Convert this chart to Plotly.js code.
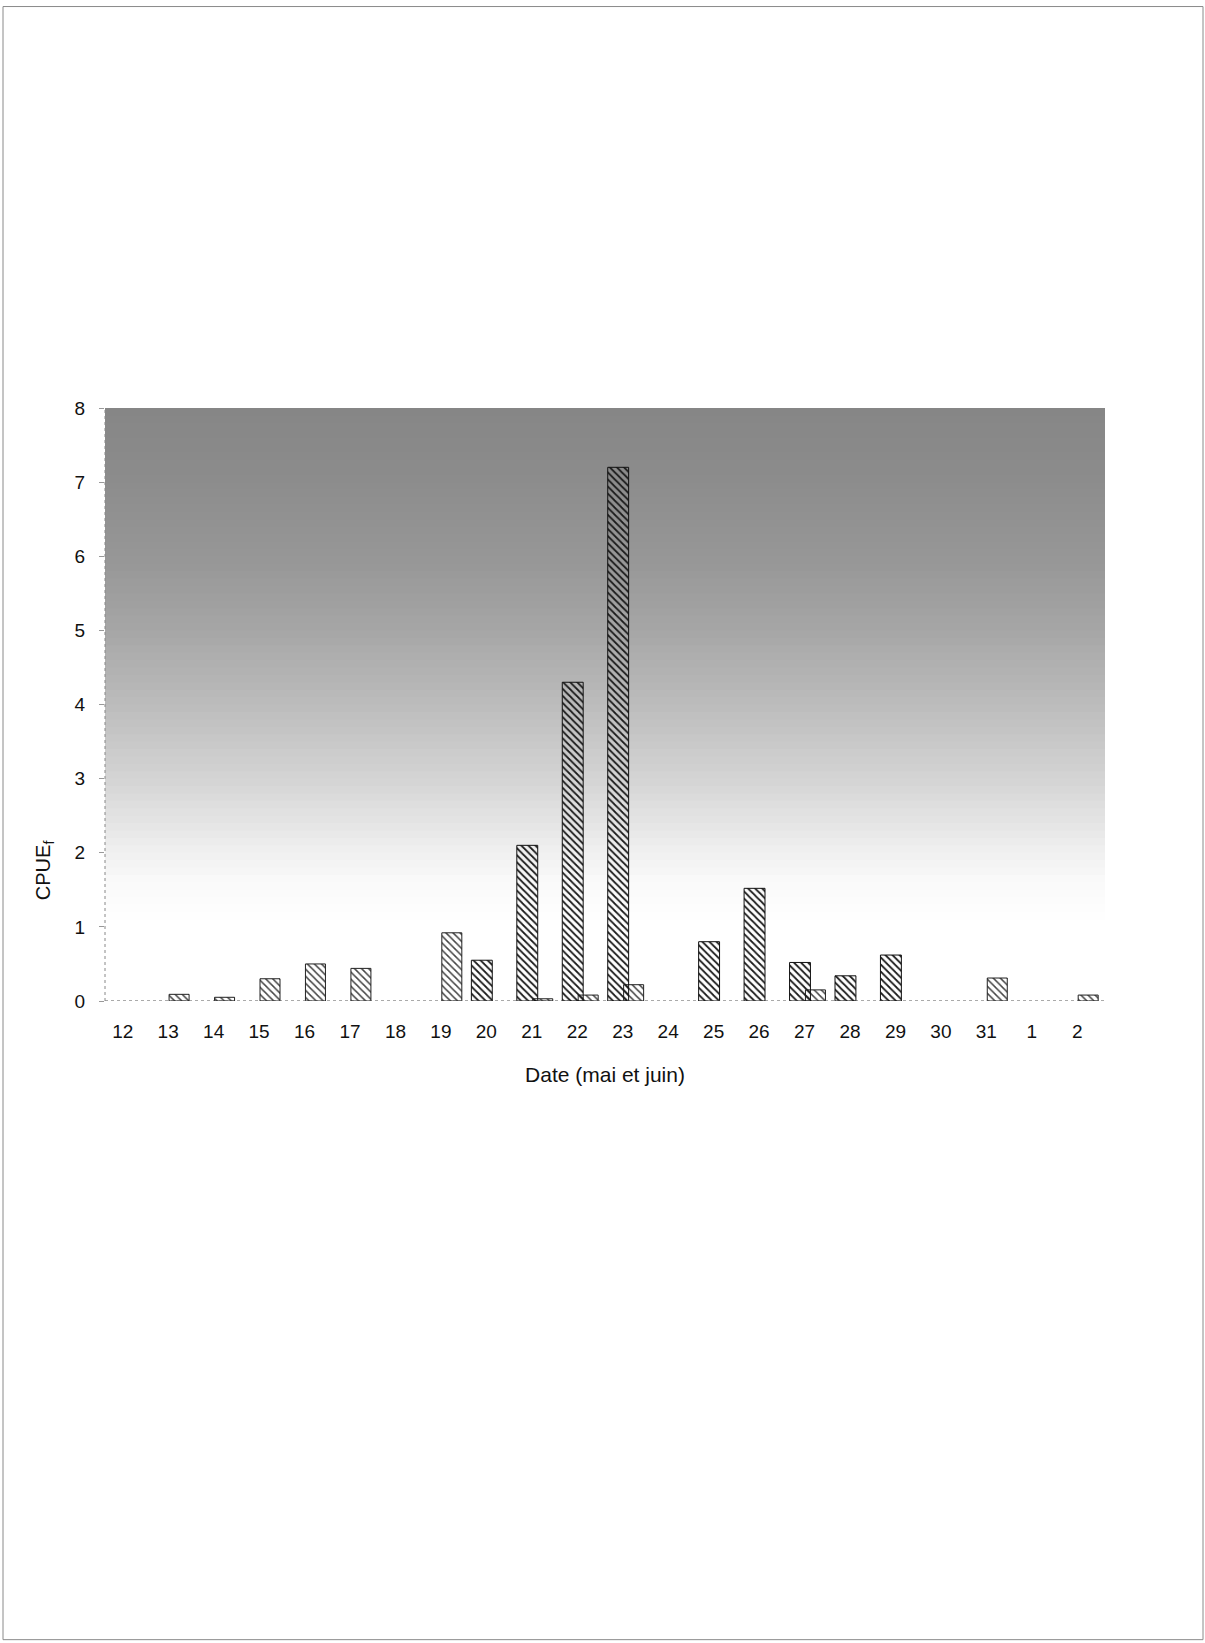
<!DOCTYPE html>
<html><head><meta charset="utf-8">
<script src="https://cdn.plot.ly/plotly-3.0.1.min.js"></script>
<style>html,body{margin:0;padding:0;background:#fff}#chart{width:1205px;height:1643px}</style>
</head><body><div id="chart"></div>
<script>
// Data
const dates   = ['12','13','14','15','16','17','18','19','20','21','22','23','24','25','26','27','28','29','30','31','1','2'];
const serie1  = [0,   0,   0,   0,   0,   0,   0,   0,   0.55,2.1, 4.3, 7.2, 0,   0.8, 1.52,0.52,0.34,0.62,0,   0,   0,   0];
const serie2  = [0,   0.09,0.05,0.3, 0.5, 0.44,0,   0.92,0,   0.03,0.08,0.22,0,   0,   0,   0.15,0,   0,   0,   0.31,0,   0.08];
const yTitle  = 'CPUE<sub>f</sub>';
const xTitle  = 'Date (mai et juin)';

const FONT = 'Liberation Sans, Arial, sans-serif';

// gradient background (style only)
function grayAt(v){
  const stops = [[1.0,255],[1.6,250],[2.0,240],[3.0,212],[4.0,188],[5.0,166],[6.0,150],[7.0,140],[8.0,134]];
  if (v <= stops[0][0]) return 255;
  for (let i=1;i<stops.length;i++){
    if (v <= stops[i][0]){
      const a=stops[i-1], b=stops[i];
      return Math.round(a[1] + (b[1]-a[1])*(v-a[0])/(b[0]-a[0]));
    }
  }
  return 134;
}
const shapes = [];
for (let v=1.0; v<8-1e-9; v+=0.1){
  const g = grayAt(v+0.05);
  shapes.push({type:'rect', layer:'below', xref:'paper', yref:'y', x0:0, x1:1, y0:v, y1:Math.min(8,v+0.14),
    fillcolor:`rgb(${g},${g},${g})`, line:{width:0}});
}
// dotted baseline and left border
shapes.push({type:'line', layer:'above', xref:'paper', yref:'y', x0:0, x1:1, y0:0, y1:0, line:{color:'#555', width:1, dash:'dot'}});
shapes.push({type:'line', layer:'above', xref:'paper', yref:'paper', x0:0, x1:0, y0:0, y1:1, line:{color:'#888', width:1, dash:'dot'}});
// page frame
shapes.push({type:'rect', layer:'below', xref:'paper', yref:'paper', x0:-0.102, x1:1.098, y0:-1.077, y1:1.677, line:{color:'#8a8a8a', width:1}, fillcolor:'rgba(0,0,0,0)'});

const lw = arr => arr.map(v => v > 0 ? 1 : 0);

const traces = [
  {type:'bar', x:dates, y:serie2, name:'serie 2', offset:-0.09, width:0.44,
   marker:{color:'#a0a0a0', line:{color:'#222', width:lw(serie2)},
     pattern:{shape:'\\', fgcolor:'#444', size:5, solidity:0.3}}},
  {type:'bar', x:dates, y:serie1, name:'serie 1', offset:-0.44, width:0.46,
   marker:{color:'#666666', line:{color:'#111', width:lw(serie1)},
     pattern:{shape:'\\', fgcolor:'#1a1a1a', size:5, solidity:0.35}}}
];

const layout = {
  width:1205, height:1643,
  margin:{l:105, r:100, t:408, b:642},
  paper_bgcolor:'#fff', plot_bgcolor:'#fff',
  showlegend:false, barmode:'overlay',
  font:{family:FONT, color:'#111', size:18},
  xaxis:{type:'category', categoryorder:'array', categoryarray:dates,
    showgrid:false, zeroline:false, showline:false, ticks:'', ticklabelstandoff:17, ticklabelshift:-5,
    tickfont:{size:19, family:FONT, color:'#111'},
    title:{text:xTitle, font:{size:21, family:FONT, color:'#111'}, standoff:26}},
  yaxis:{range:[0,8], dtick:1, tick0:0, showgrid:false, zeroline:false, showline:false,
    ticks:'outside', ticklen:5, tickcolor:'#999', ticklabelstandoff:10,
    tickfont:{size:19, family:FONT, color:'#111'}},
  shapes:shapes,
  annotations:[{text:yTitle, xref:'paper', yref:'paper', x:-0.061, y:0.2206, showarrow:false,
    textangle:-90, font:{size:20, family:FONT, color:'#111'}, xanchor:'center', yanchor:'middle'}]
};

Plotly.newPlot('chart', traces, layout, {staticPlot:true, displayModeBar:false});
</script>
</body></html>
